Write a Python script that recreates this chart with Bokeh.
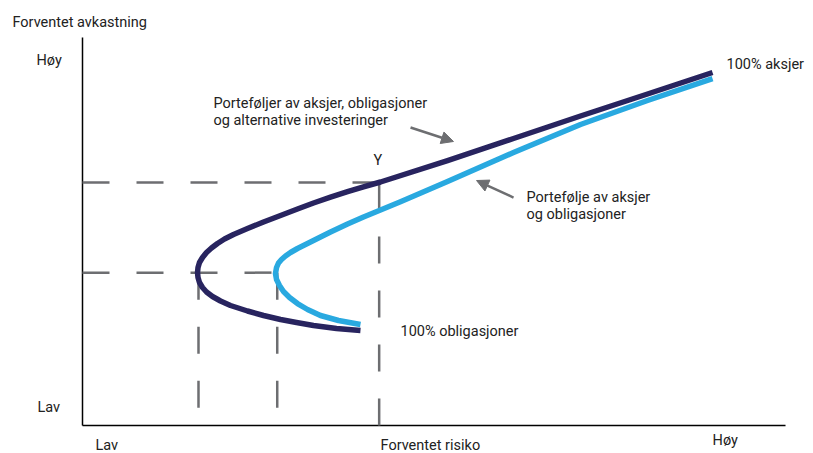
from bokeh.plotting import figure
from bokeh.models import Range1d, Arrow, NormalHead, ColumnDataSource
from bokeh.core.properties import value
from bokeh.embed import file_html
from bokeh.resources import INLINE

# ---- data (relative units: 0..100 on both axes) ----
dark_risk = [39.54, 36.13, 32.86, 30.44, 28.17, 25.75, 23.47, 21.05, 19.63, 18.49, 17.64,
             17.07, 16.64, 16.43, 16.36, 16.43, 16.64, 17.07, 17.64, 18.35, 19.20, 20.20,
             21.48, 23.47, 25.75, 28.17, 30.58, 32.86, 35.28, 37.70, 39.97, 42.39, 51.92,
             61.31, 70.84, 80.37, 89.62]
dark_return = [24.48, 25.00, 25.77, 26.55, 27.32, 28.35, 29.51, 30.93, 32.09, 33.25, 34.41,
               35.57, 36.86, 38.14, 39.43, 40.72, 42.01, 43.30, 44.59, 45.75, 46.91, 48.07,
               49.23, 50.77, 52.45, 54.12, 55.80, 57.35, 58.84, 60.26, 61.52, 62.76, 68.30,
               73.97, 79.77, 85.44, 90.98]
light_risk = [39.54, 36.42, 33.85, 32.01, 30.58, 29.45, 28.59, 28.02, 27.60, 27.45, 27.60,
              27.88, 28.31, 28.88, 29.59, 30.58, 31.72, 32.86, 35.28, 37.70, 39.97, 42.39,
              45.23, 51.92, 61.31, 70.84, 80.37, 89.62]
light_return = [26.03, 27.06, 28.35, 29.90, 31.44, 32.99, 34.54, 36.08, 37.63, 39.18, 40.72,
                41.88, 42.78, 43.69, 44.59, 45.62, 46.65, 47.68, 49.87, 51.93, 53.74, 55.54,
                57.66, 62.89, 70.36, 77.58, 83.76, 89.43]

ref_risk = [16.5, 27.7, 42.2]      # vertical dashed guides
ref_return = [39.4, 39.4, 62.6]    # level where each guide ends
axis_max = 100

DARK = "#28245f"
LIGHT = "#29a9e0"
GREY = "#6d6e71"
TXT = "#222222"

p = figure(width=813, height=453, output_backend="svg", toolbar_location=None,
           x_range=Range1d(-11.664, 103.98), y_range=Range1d(-7.216, 109.54),
           min_border=0, min_border_left=0, min_border_right=0,
           min_border_top=0, min_border_bottom=0)
p.axis.visible = False
p.grid.visible = False
p.outline_line_color = None
p.background_fill_color = "white"
p.border_fill_color = "white"

# axes
p.line([0, 0], [0, axis_max], line_color="black", line_width=1.5)
p.line([0, axis_max], [0, 0], line_color="black", line_width=1.5)

# dashed guides
dash = "27 27"
for rx, ry in zip(ref_risk, ref_return):
    p.line([rx, rx], [ry, 0], line_color=GREY, line_width=2.5, line_dash=dash)
p.line([0, ref_risk[1]], [ref_return[0], ref_return[0]], line_color=GREY, line_width=2.5, line_dash=dash)
p.line([0, ref_risk[2]], [ref_return[2], ref_return[2]], line_color=GREY, line_width=2.5, line_dash=dash)

# curves
p.line(light_risk, light_return, line_color=LIGHT, line_width=5.5, line_join="round", line_cap="butt")
p.line(dark_risk, dark_return, line_color=DARK, line_width=5.5, line_join="round", line_cap="butt")

# arrows
for xs, ys, xe, ye in [(46.66, 76.8, 52.77, 73.2), (61.31, 58.76, 56.05, 63.14)]:
    p.add_layout(Arrow(end=NormalHead(size=12, fill_color=GREY, line_color=GREY, line_width=1),
                       x_start=xs, y_start=ys, x_end=xe, y_end=ye,
                       line_color=GREY, line_width=2.5))

# texts
labels = ["Forventet avkastning", "Høy", "Lav", "Lav", "Forventet risiko", "Høy",
          "100% aksjer", "100% obligasjoner", "Y",
          "Porteføljer av aksjer, obligasjoner", "og alternative investeringer",
          "Portefølje av aksjer", "og obligasjoner"]
lx = [-9.96, -6.54, -6.40, 1.85, 42.39, 89.62, 91.61, 45.23, 41.39, 18.63, 18.63, 63.16, 63.16]
ly = [103.87, 94.07, 4.64, -5.28, -5.28, -3.87, 93.04, 24.23, 68.3, 82.99, 78.61, 58.76, 54.38]
src = ColumnDataSource(dict(x=lx, y=ly, t=labels))
p.text(x="x", y="y", text="t", source=src, text_font=value("Roboto"),
       text_font_size="14.5px", text_color=TXT, text_baseline="middle", text_align="left")

open("out.html", "w").write(file_html(p, INLINE))
